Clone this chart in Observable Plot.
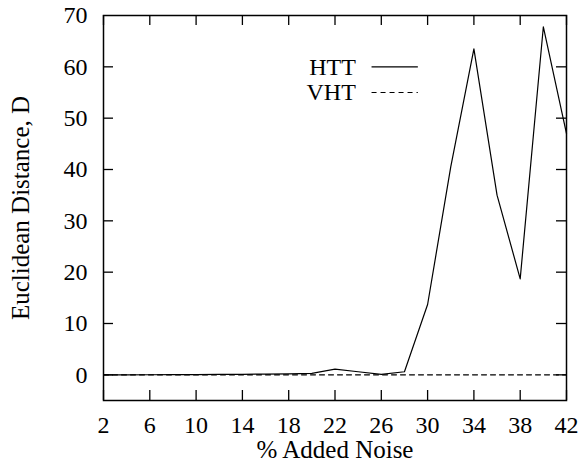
<!DOCTYPE html>
<html>
<head>
<meta charset="utf-8">
<script src="https://cdn.jsdelivr.net/npm/d3@7"></script>
<script src="https://cdn.jsdelivr.net/npm/@observablehq/plot@0.6"></script>
<style>
  html, body { margin: 0; padding: 0; background: #fff; }
  #chart { width: 578px; height: 464px; }
</style>
</head>
<body>
<div id="chart"></div>
<script>
const noise = [2, 4, 6, 8, 10, 12, 14, 16, 18, 20, 22, 24, 26, 28, 30, 32, 34, 36, 38, 40, 42];
const htt   = [0.0, 0.0, 0.02, 0.05, 0.05, 0.08, 0.1, 0.15, 0.2, 0.3, 1.1, 0.6, 0.1, 0.6, 13.7, 40.5, 63.5, 35.0, 18.7, 67.8, 47.0];
const vht   = [0, 0, 0, 0, 0, 0, 0, 0, 0, 0, 0, 0, 0, 0, 0, 0, 0, 0, 0, 0, 0];
const xTicks = [2, 6, 10, 14, 18, 22, 26, 30, 34, 38, 42];
const yTicks = [0, 10, 20, 30, 40, 50, 60, 70];
const seriesNames = ["HTT", "VHT"];

const data = [
  ...noise.map((x, i) => ({x, y: htt[i], s: seriesNames[0]})),
  ...noise.map((x, i) => ({x, y: vht[i], s: seriesNames[1]}))
];

const W = 578, H = 464;
const mL = 103, mR = 12, mT = 15, mB = 64;
const iw = W - mL - mR, ih = H - mT - mB;
const font = "'Liberation Serif', 'Times New Roman', serif";

const legend = [
  {s: seriesNames[0], y: 60, dash: null},
  {s: seriesNames[1], y: 55, dash: "5,4"}
];

const chart = Plot.plot({
  width: W, height: H,
  marginLeft: mL, marginRight: mR, marginTop: mT, marginBottom: mB,
  style: {fontFamily: font, fontSize: "24px", color: "#000", background: "#fff"},
  x: {domain: [2, 42]},
  y: {domain: [-5, 70]},
  marks: [
    // inward ticks
    Plot.ruleX(xTicks, {insetTop: ih - 10, stroke: "#000", strokeWidth: 1.3}),
    Plot.ruleX(xTicks, {insetBottom: ih - 10, stroke: "#000", strokeWidth: 1.3}),
    Plot.ruleY(yTicks.slice(0, -1), {insetRight: iw - 10, stroke: "#000", strokeWidth: 1.3}),
    Plot.ruleY(yTicks.slice(0, -1), {insetLeft: iw - 10, stroke: "#000", strokeWidth: 1.3}),
    Plot.axisX({ticks: xTicks, tickSize: 0, tickPadding: 15, fontSize: 24, label: null}),
    Plot.axisX({ticks: [], tickSize: 0, fontSize: 25,
      label: "% Added Noise", labelAnchor: "center", labelArrow: "none", labelOffset: 57}),
    Plot.axisY({ticks: yTicks, tickSize: 0, tickPadding: 16, fontSize: 24, label: null}),
    Plot.axisY({ticks: [], tickSize: 0, fontSize: 25,
      label: "Euclidean Distance, D", labelAnchor: "center", labelArrow: "none", labelOffset: 92}),
    Plot.line(data.filter(d => d.s === "VHT"), {x: "x", y: "y", stroke: "#000", strokeWidth: 1.1, strokeDasharray: "5,4"}),
    Plot.line(data.filter(d => d.s === "HTT"), {x: "x", y: "y", stroke: "#000", strokeWidth: 1.2}),
    // legend
    Plot.text(legend, {x: 23.8, y: "y", text: "s", textAnchor: "end", fontSize: 24, fill: "#000"}),
    Plot.ruleY(legend.filter(d => !d.dash), {x1: 25.2, x2: 29.2, y: "y", stroke: "#000", strokeWidth: 1.2}),
    Plot.ruleY(legend.filter(d => d.dash), {x1: 25.2, x2: 29.2, y: "y", stroke: "#000", strokeWidth: 1.1, strokeDasharray: "5,4"}),
    Plot.frame({stroke: "#000", strokeWidth: 1.5})
  ]
});
document.getElementById("chart").appendChild(chart);
</script>
</body>
</html>
